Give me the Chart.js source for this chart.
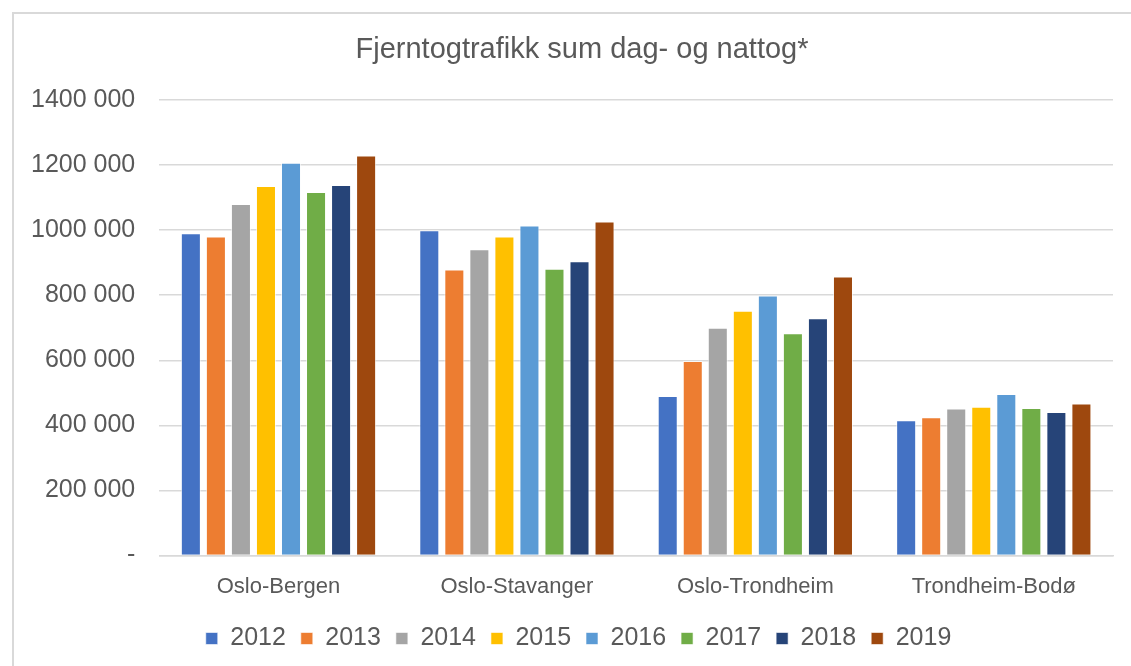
<!DOCTYPE html>
<html>
<head>
<meta charset="utf-8">
<script src="https://cdn.jsdelivr.net/npm/chart.js"></script>
<style>
    body { margin: 0; background: #fff; overflow: hidden; }
    #ramme { position: absolute; left: 12px; top: 12px; width: 1200px; height: 700px; border: 2px solid #d9d9d9; }
    #wrap { position: absolute; left: 0; top: 0; width: 1131px; height: 666px; }
</style>
</head>
<body>
<div id="ramme"></div>
<div id="wrap"><canvas id="chartTog"></canvas></div>
<script>
// Strekninger
const strekninger = ['Oslo-Bergen', 'Oslo-Stavanger', 'Oslo-Trondheim', 'Trondheim-Bodø'];
const aar = ['2012', '2013', '2014', '2015', '2016', '2017', '2018', '2019'];

// Reisende per år (Oslo-Bergen, Oslo-Stavanger, Oslo-Trondheim, Trondheim-Bodø)
const v2012 = [990000, 999000, 490000, 416000];
const v2013 = [980000, 879000, 598000, 425000];
const v2014 = [1080000, 941000, 700000, 452000];
const v2015 = [1135000, 980000, 752000, 457000];
const v2016 = [1207000, 1014000, 799000, 496000];
const v2017 = [1117000, 881000, 683000, 453000];
const v2018 = [1138000, 904000, 729000, 441000];
const v2019 = [1229000, 1026000, 857000, 467000];

const yTicks = [0, 200000, 400000, 600000, 800000, 1000000, 1200000, 1400000];

const farger = ['#4472C4', '#ED7D31', '#A5A5A5', '#FFC000', '#5B9BD5', '#70AD47', '#264478', '#9E480E'];
const serier = [v2012, v2013, v2014, v2015, v2016, v2017, v2018, v2019];

const tekstFarge = '#595959';
const font = 'Liberation Sans, Arial, sans-serif';

// Tittel og forklaring står litt til høyre for midten i originalen
const forskyvning = {
    id: 'forskyvning',
    afterLayout(chart) {
        [chart.titleBlock, chart.legend].forEach(boks => {
            if (boks) { boks.left += 22; boks.right += 22; }
        });
    }
};

const ctx = document.getElementById('chartTog').getContext('2d');
new Chart(ctx, {
    type: 'bar',
    data: {
        labels: strekninger,
        datasets: serier.map((data, i) => ({
            label: aar[i],
            data: data,
            backgroundColor: farger[i],
            borderColor: 'rgba(255,255,255,0.6)',
            borderWidth: 1,
            categoryPercentage: 0.84,
            barPercentage: 0.8
        }))
    },
    options: {
        responsive: true,
        maintainAspectRatio: false,
        animation: false,
        layout: { padding: { left: 7, right: 18, top: 0, bottom: 5 } },
        plugins: {
            title: {
                display: true,
                text: 'Fjerntogtrafikk sum dag- og nattog*',
                color: tekstFarge,
                font: { family: font, size: 29, weight: 'normal' },
                padding: { top: 33, bottom: 32 }
            },
            legend: {
                position: 'bottom',
                labels: {
                    color: tekstFarge,
                    font: { family: font, size: 25 },
                    boxWidth: 12,
                    boxHeight: 12,
                    padding: 8,
                    // litt ekstra luft mellom årstallene
                    generateLabels: chart => Chart.defaults.plugins.legend.labels.generateLabels(chart)
                        .map(l => ({ ...l, text: l.text + ' ' }))
                }
            },
            tooltip: { enabled: false }
        },
        scales: {
            x: {
                grid: { display: false, drawTicks: false },
                border: { display: true, color: '#d9d9d9', width: 1.5 },
                ticks: { color: tekstFarge, font: { family: font, size: 22 }, padding: 18 }
            },
            y: {
                min: 0,
                max: 1400000,
                afterBuildTicks: axis => { axis.ticks = yTicks.map(v => ({ value: v })); },
                grid: { color: '#d9d9d9', lineWidth: 1.5, drawTicks: false },
                border: { display: false },
                ticks: {
                    color: tekstFarge,
                    font: { family: font, size: 25 },
                    padding: 24,
                    callback: v => v === 0 ? '-' : Math.floor(v / 1000) + ' 000'
                }
            }
        }
    },
    plugins: [forskyvning]
});
</script>
</body>
</html>
